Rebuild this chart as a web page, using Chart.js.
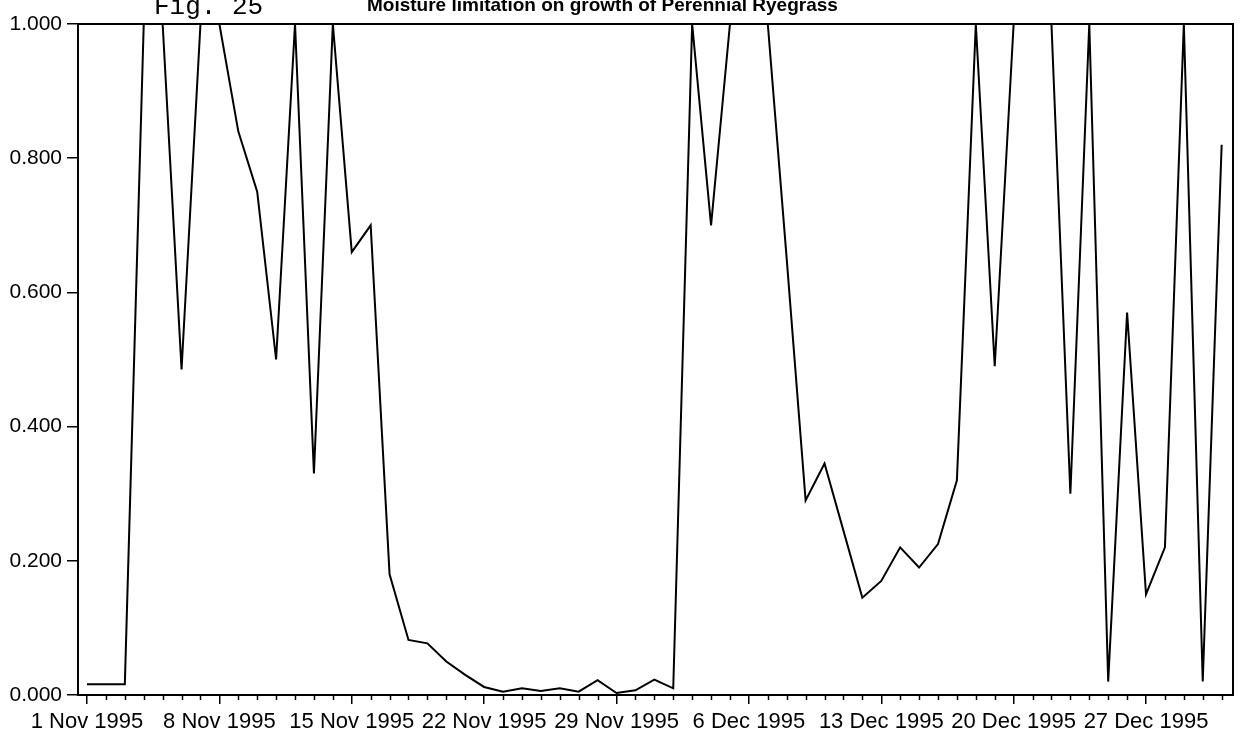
<!DOCTYPE html>
<html>
<head>
<meta charset="utf-8">
<title>Fig. 25</title>
<script src="https://cdn.jsdelivr.net/npm/chart.js@4/dist/chart.umd.min.js"></script>
<style>
  body { margin: 0; background: #fff; }
  #wrap { position: relative; width: 1243px; height: 742px; overflow: hidden; }
  #figNo { position: absolute; left: 154px; top: -8px; font: 26px "Liberation Mono", "Courier New", monospace; color: #000; white-space: nowrap; }
  #titulo { position: absolute; left: 367px; top: -6px; font: bold 19px "Liberation Sans", Arial, sans-serif; color: #000; white-space: nowrap; }
</style>
</head>
<body>
<div id="wrap">
  <canvas id="moistureChart" width="1243" height="742"></canvas>
  <div id="figNo">Fig. 25</div>
  <div id="titulo">Moisture limitation on growth of Perennial Ryegrass</div>
</div>
<script>
// Dias desde 1 Nov 1995 (0 = 1 Nov, 60 = 31 Dec)
const dias = [];
for (let d = 0; d <= 60; d++) dias.push(d);

// Valores (um por dia)
const valores = [
  0.016, 0.016, 0.016, 1.000, 1.000, 0.485, 1.000, 1.000, 0.840, 0.750,
  0.500, 1.000, 0.330, 1.000, 0.660, 0.700, 0.180, 0.082, 0.077, 0.050,
  0.030, 0.012, 0.005, 0.010, 0.006, 0.010, 0.005, 0.022, 0.003, 0.007,
  0.023, 0.010, 1.000, 0.700, 1.000, 1.000, 1.000, 0.650, 0.290, 0.345,
  0.245, 0.145, 0.170, 0.220, 0.190, 0.225, 0.320, 1.000, 0.490, 1.000,
  1.000, 1.000, 0.300, 1.000, 0.020, 0.570, 0.150, 0.220, 1.000, 0.020,
  0.820
];

// Rotulos do eixo X (uma vez por semana)
const diasRotulo = [0, 7, 14, 21, 28, 35, 42, 49, 56];
const rotulosX = [
  '1 Nov 1995', '8 Nov 1995', '15 Nov 1995', '22 Nov 1995', '29 Nov 1995',
  '6 Dec 1995', '13 Dec 1995', '20 Dec 1995', '27 Dec 1995'
];

// Marcas do eixo Y
const marcasY = [0, 0.2, 0.4, 0.6, 0.8, 1.0];

const fonteX = { family: '"Liberation Sans", Arial, sans-serif', size: 22 };
const fonteY = { family: '"Liberation Sans", Arial, sans-serif', size: 21 };

// Moldura em volta da area e marcas diarias menores no eixo X
const molduraPlugin = {
  id: 'moldura',
  afterDraw(chart) {
    const ctx = chart.ctx;
    const a = chart.chartArea;
    const x = chart.scales.x;
    ctx.save();
    ctx.strokeStyle = '#000';
    ctx.lineWidth = 2;
    ctx.strokeRect(a.left, a.top, a.right - a.left, a.bottom - a.top);
    ctx.lineWidth = 1.5;
    dias.forEach(function(d) {
      if (d % 7 === 0) return;
      const px = Math.round(x.getPixelForValue(d)) + 0.5;
      ctx.beginPath();
      ctx.moveTo(px, a.bottom);
      ctx.lineTo(px, a.bottom + 5);
      ctx.stroke();
    });
    ctx.restore();
  }
};

document.addEventListener('DOMContentLoaded', function() {
  const canvas = document.getElementById('moistureChart');
  if (!canvas) return;
  const ctx = canvas.getContext('2d');

  new Chart(ctx, {
    type: 'line',
    data: {
      datasets: [{
        label: 'Moisture limitation',
        data: dias.map((d, i) => ({ x: d, y: valores[i] })),
        borderColor: '#000',
        borderWidth: 2,
        pointRadius: 0,
        tension: 0,
        fill: false
      }]
    },
    options: {
      responsive: false,
      animation: false,
      layout: { padding: { left: 0, right: 10, top: 24, bottom: 0 } },
      plugins: {
        legend: { display: false },
        tooltip: { enabled: false }
      },
      scales: {
        x: {
          type: 'linear',
          min: -0.476,
          max: 60.6,
          afterBuildTicks: function(scale) {
            scale.ticks = diasRotulo.map(v => ({ value: v }));
          },
          afterFit: function(scale) { scale.height = 47; },
          ticks: {
            autoSkip: false,
            maxRotation: 0,
            padding: 5,
            color: '#000',
            font: fonteX,
            callback: function(value) {
              const i = diasRotulo.indexOf(value);
              return i >= 0 ? rotulosX[i] : '';
            }
          },
          grid: { drawOnChartArea: false, tickLength: 9, color: '#000', lineWidth: 1.5 },
          border: { display: true, color: '#000', width: 2 }
        },
        y: {
          min: 0,
          max: 1,
          afterBuildTicks: function(scale) {
            scale.ticks = marcasY.map(v => ({ value: v }));
          },
          afterFit: function(scale) { scale.width = 78; },
          ticks: {
            padding: 5,
            color: '#000',
            font: fonteY,
            callback: function(value) { return value.toFixed(3); }
          },
          grid: { drawOnChartArea: false, tickLength: 11, color: '#000', lineWidth: 1.5 },
          border: { display: true, color: '#000', width: 2 }
        }
      }
    },
    plugins: [molduraPlugin]
  });
});
</script>
</body>
</html>
